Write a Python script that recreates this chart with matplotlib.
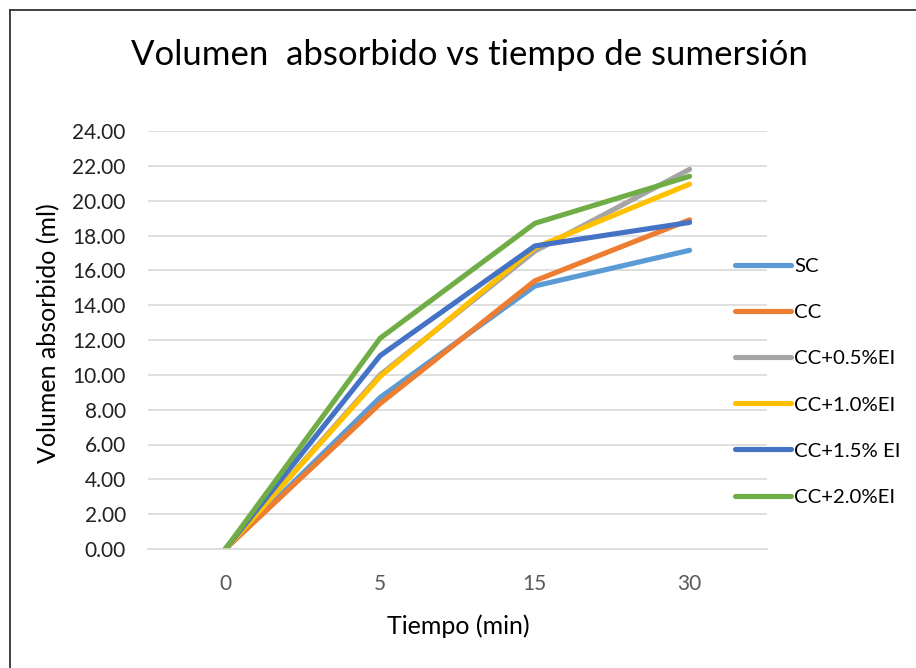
import numpy as np
import matplotlib
matplotlib.use('Agg')
import matplotlib.pyplot as plt
from matplotlib.lines import Line2D

# --- data --- #
tiempo = ['0', '5', '15', '30']

series_names = ['SC', 'CC', 'CC+0.5%EI', 'CC+1.0%EI', 'CC+1.5% EI', 'CC+2.0%EI']
sc = [0.0, 8.7, 15.1, 17.15]
cc = [0.0, 8.35, 15.4, 18.9]
cc_05 = [0.0, 10.0, 17.1, 21.8]
cc_10 = [0.0, 9.9, 17.3, 20.95]
cc_15 = [0.0, 11.1, 17.4, 18.75]
cc_20 = [0.0, 12.1, 18.7, 21.4]

colors = ['#5b9bd5', '#ed7d31', '#a5a5a5', '#ffc000', '#4472c4', '#70ad47']

plt.rcParams['font.family'] = ['Lato', 'DejaVu Sans']

W, H = 916, 668
fig = plt.figure(figsize=(W / 100, H / 100), dpi=100)
ax = fig.add_axes([148 / W, 1 - 549 / H, 619 / W, 418 / H])

x = np.arange(len(tiempo)) + 0.5
p = []
for name, vals, c in zip(series_names, [sc, cc, cc_05, cc_10, cc_15, cc_20], colors):
    p.append(ax.plot(x, vals, color=c, lw=3.7, solid_capstyle='round',
                     solid_joinstyle='round', label=name)[0])

ax.set_xlim(0, len(tiempo))
ax.set_ylim(0, 24)
ax.set_xticks(x)
ax.set_xticklabels(tiempo)
ax.set_yticks(np.arange(0, 25, 2))
ax.set_yticklabels(['%.2f' % v for v in np.arange(0, 25, 2)])
ax.yaxis.grid(True, color='#d9d9d9', lw=1.2)
ax.set_axisbelow(True)
for s in ['top', 'right', 'left']:
    ax.spines[s].set_visible(False)
ax.spines['bottom'].set_color('#d9d9d9')
ax.spines['bottom'].set_linewidth(1.2)
ax.tick_params(axis='x', length=0, labelsize=15, colors='#595959', pad=18)
ax.tick_params(axis='y', length=0, labelsize=15, colors='#222222', pad=16)

ax.set_xlabel('Tiempo (min)', fontsize=18, va='center')
ax.xaxis.set_label_coords((458 - 148) / 619, (549 - 626) / 418)
ax.set_ylabel('Volumen absorbido (ml)', fontsize=18, va='center')
ax.yaxis.set_label_coords((49 - 148) / 619, (549 - 333) / 418)

fig.text(469 / W, 1 - 65 / H, 'Volumen  absorbido vs tiempo de sumersión',
         fontsize=25, ha='center', va='baseline')

leg = fig.legend(handles=p, loc='upper left', bbox_to_anchor=(735 / W, 1 - 258 / H),
                 frameon=False, fontsize=14.7, handlelength=2.75, handletextpad=0.15,
                 labelspacing=1.41, borderaxespad=0, borderpad=0)

# chart border (only top and left edges visible in the crop)
fig.add_artist(Line2D([10 / W, 1], [1 - 10 / H, 1 - 10 / H], color='#333333', lw=1.3))
fig.add_artist(Line2D([10 / W, 10 / W], [0, 1 - 10 / H], color='#333333', lw=1.3))

fig.savefig('out.png', dpi=100)
